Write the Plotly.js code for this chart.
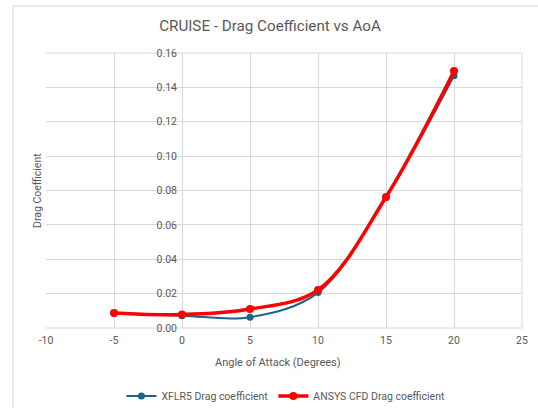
<!DOCTYPE html>
<html>
<head>
<meta charset="utf-8">
<script src="https://cdn.plot.ly/plotly-3.0.1.min.js"></script>
<style>html,body{margin:0;padding:0;background:#fff;}#chart{width:538px;height:408px;}</style>
</head>
<body>
<div id="chart"></div>
<script>
var aoa = [-5, 0, 5, 10, 15, 20];
var xflr5Cd = [0.0086, 0.0072, 0.0063, 0.0206, 0.0760, 0.1468];
var ansysCd = [0.0088, 0.0078, 0.0110, 0.0221, 0.0762, 0.1495];
var xTicks = [-10, -5, 0, 5, 10, 15, 20, 25];
var yTicks = [0, 0.02, 0.04, 0.06, 0.08, 0.10, 0.12, 0.14, 0.16];
var yTickText = ['0.00','0.02','0.04','0.06','0.08','0.10','0.12','0.14','0.16'];

var fontFam = 'Roboto, "Liberation Sans", Arial, sans-serif';
var grey = '#595959';

var traces = [
  {x: aoa, y: xflr5Cd, name: 'XFLR5 Drag coefficient', type: 'scatter', mode: 'lines+markers',
   line: {color: '#1b6488', width: 2, shape: 'spline', smoothing: 1}, marker: {color: '#1b6488', size: 7}},
  {x: aoa, y: ansysCd, name: 'ANSYS CFD Drag coefficient', type: 'scatter', mode: 'lines+markers',
   line: {color: '#ff0000', width: 3.5, shape: 'spline', smoothing: 1}, marker: {color: '#ff0000', size: 8}}
];

var layout = {
  width: 538, height: 408,
  margin: {l: 46, r: 16, t: 53, b: 80, autoexpand: false},
  paper_bgcolor: '#ffffff', plot_bgcolor: '#ffffff',
  font: {family: fontFam, color: grey, size: 10},
  title: {text: 'CRUISE - Drag Coefficient vs AoA', font: {size: 15.2, color: grey, family: fontFam},
          x: 270/538, xref: 'container', xanchor: 'center', y: 1 - 26/408, yref: 'container', yanchor: 'middle'},
  showlegend: true,
  legend: {orientation: 'h', x: 0.504, xanchor: 'center', y: -0.247, yanchor: 'middle',
           font: {size: 10.5, color: grey}, itemwidth: 30, bgcolor: 'rgba(0,0,0,0)'},
  xaxis: {range: [-10, 25], tickvals: xTicks, ticktext: xTicks.map(String), showgrid: true,
          gridcolor: '#d9d9d9', gridwidth: 1, zeroline: false, showline: false, ticks: '',
          ticklabelstandoff: 4, tickfont: {size: 10.5, color: grey}, fixedrange: true},
  yaxis: {range: [0, 0.16], tickvals: yTicks, ticktext: yTickText, showgrid: true,
          gridcolor: '#d9d9d9', gridwidth: 1, zeroline: false, showline: false, ticks: '',
          anchor: 'free', position: 10/35, side: 'left', ticklabelstandoff: 5,
          tickfont: {size: 10.5, color: grey}, fixedrange: true},
  shapes: [
    {type: 'rect', xref: 'paper', yref: 'paper', x0: -0.069, x1: 1.2, y0: -0.6, y1: 1.171,
     line: {color: '#d9d9d9', width: 1}, fillcolor: 'rgba(0,0,0,0)', layer: 'below'},
    {type: 'line', xref: 'paper', yref: 'paper', x0: 0, x1: 1, y0: 0, y1: 0,
     line: {color: '#d9d9d9', width: 1}, layer: 'below'},
    {type: 'line', xref: 'paper', yref: 'paper', x0: 1, x1: 1, y0: 0, y1: 1,
     line: {color: '#d9d9d9', width: 1}, layer: 'below'},
    {type: 'line', xref: 'paper', yref: 'paper', x0: 0, x1: 1, y0: 1, y1: 1,
     line: {color: '#d9d9d9', width: 1}, layer: 'below'}
  ],
  annotations: [
    {text: 'Drag Coefficient', xref: 'paper', yref: 'paper', x: (37-46)/476, y: (328-191)/275,
     xanchor: 'center', yanchor: 'middle', textangle: -90, showarrow: false, font: {size: 10.5, color: grey}},
    {text: 'Angle of Attack (Degrees)', xref: 'paper', yref: 'paper', x: (278-46)/476, y: (328-362)/275,
     xanchor: 'center', yanchor: 'middle', showarrow: false, font: {size: 11, color: grey}}
  ]
};

Plotly.newPlot('chart', traces, layout, {displayModeBar: false, staticPlot: true});
</script>
</body>
</html>
